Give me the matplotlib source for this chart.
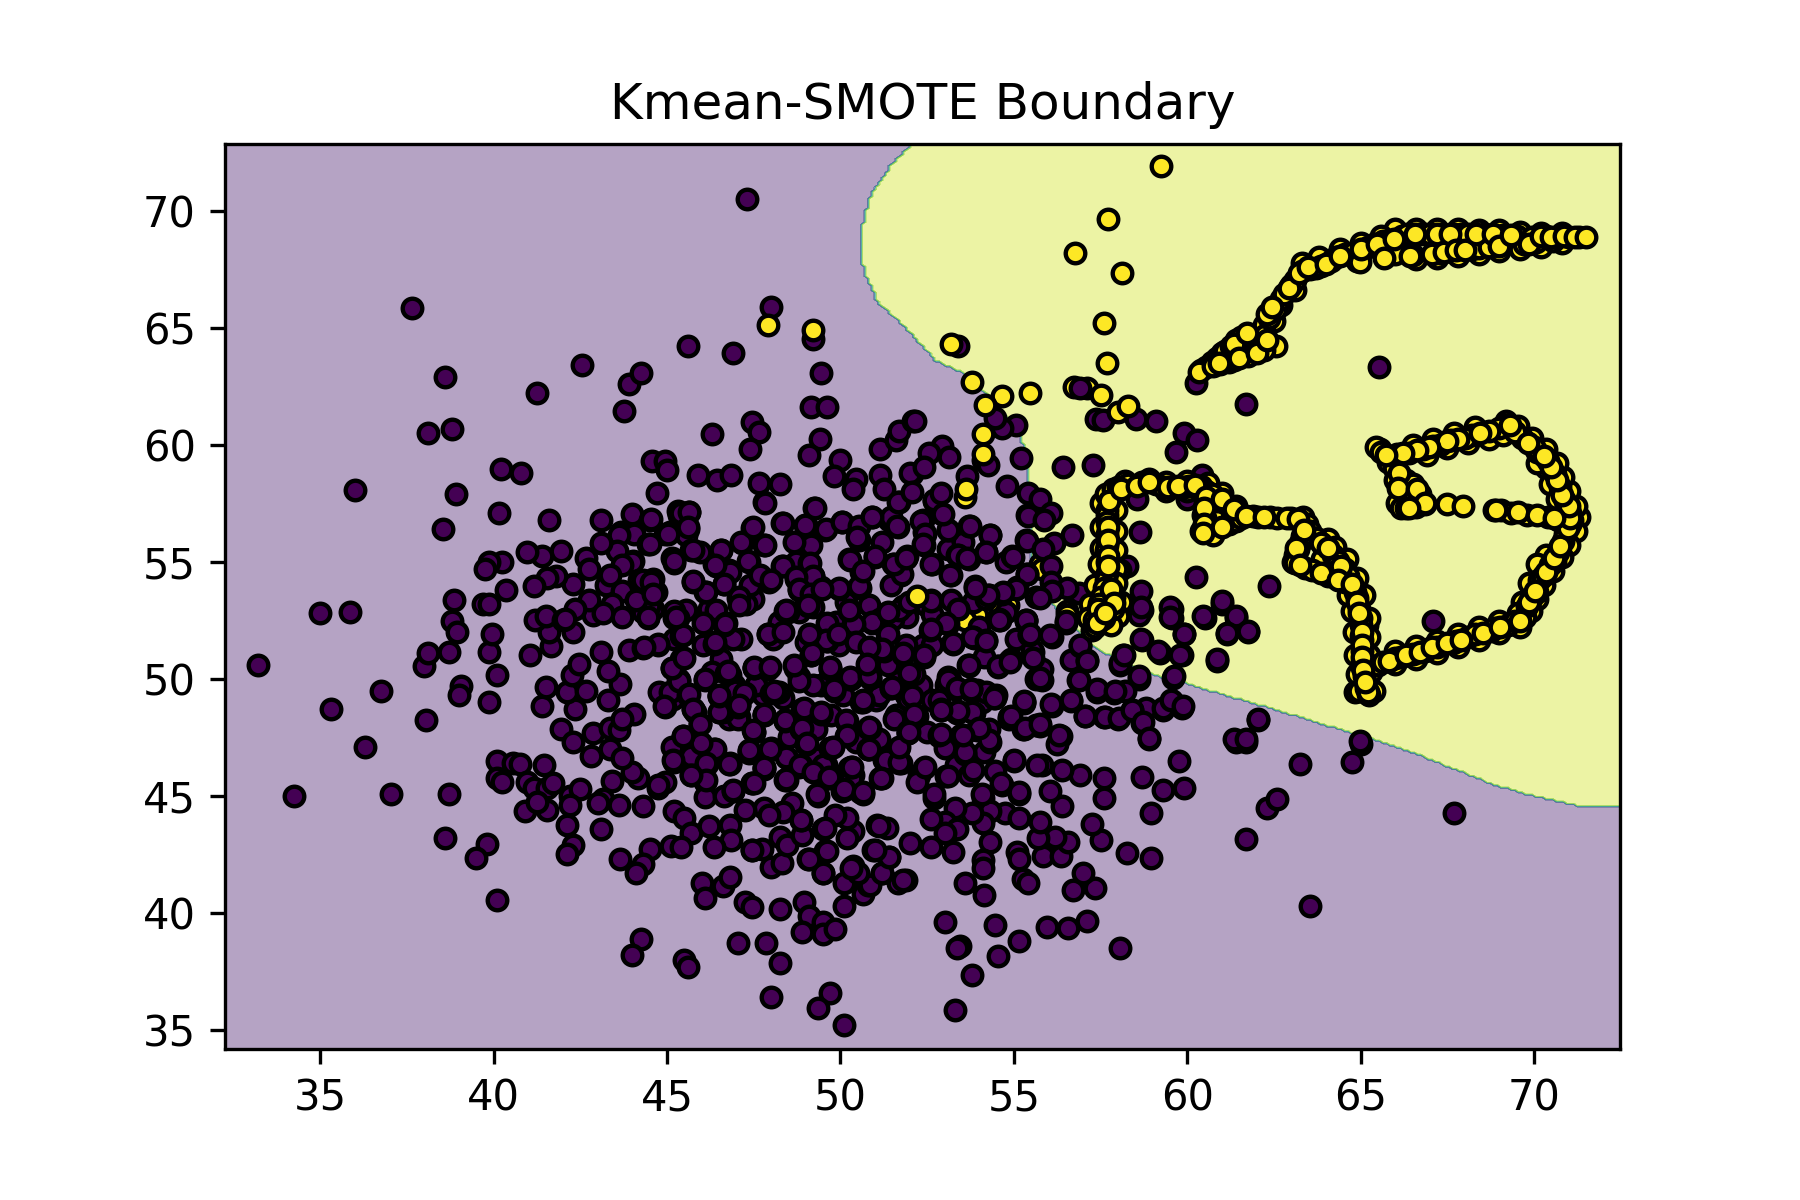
import numpy as np
import matplotlib
matplotlib.use("Agg")
import matplotlib.pyplot as plt
from matplotlib.path import Path

# decision boundary, class 1 side is up/right
boundary_x = [52.15, 51.45, 50.85, 50.56, 50.66, 51.09, 51.69, 52.75, 53.51, 54.5, 55.2, 55.43, 55.5,
              56.16, 57.28, 58.68, 60.07, 62.88, 66.22, 68.81, 70.1, 71.2, 72.6, 73.0, 73.0, 52.15]
boundary_y = [73.0, 71.91, 70.59, 68.97, 67.5, 66.03, 65.29, 63.58, 63.09, 61.81, 60.34, 58.82, 55.25,
              53.09, 51.37, 50.34, 49.75, 48.53, 47.01, 45.5, 44.95, 44.6, 44.5, 44.5, 73.0, 73.0]

x_limits = [32.25, 72.48]
y_limits = [34.2, 72.84]
x_ticks = [35, 40, 45, 50, 55, 60, 65, 70]
y_ticks = [35, 40, 45, 50, 55, 60, 65, 70]

# yellow points that sit behind the purple ones
class1_under = [(56.73, 62.45), (57.1, 62.4), (54.1, 59.33), (53.6, 57.78), (55.75, 54.91), (54.84, 53.14),
                (53.93, 52.72), (56.52, 52.89), (56.52, 52.72), (54.6, 52.9), (53.6, 52.5), (55.8, 54.7)]

# points mostly covered by others in the dense middle
class0_hidden = [
    (50.16, 53.28), (50.83, 53.14), (49.87, 52.43), (49.96, 51.43), (49.44, 49.72), (50.06, 49.3), (51.02, 49.08), (51.6, 48.44),
    (51.12, 49.3), (51.69, 50.15), (52.32, 49.72), (51.88, 49.3), (48.81, 50.08), (49.2, 49.72), (48.33, 49.16), (47.56, 49.72),
    (46.94, 49.72), (46.79, 48.3), (46.51, 48.59), (47.08, 48.37), (46.55, 50.86), (45.35, 49.94), (44.78, 49.44), (45.16, 49.15),
    (48.52, 47.52), (49.29, 47.87), (49.72, 48.44), (50.44, 47.31), (51.12, 47.45), (49.29, 46.6), (49.58, 46.31), (50.35, 45.88),
    (51.26, 46.6), (52.27, 45.88), (53.33, 46.31), (54.14, 46.88), (54.29, 47.87), (54.09, 49), (52.65, 49.08), (53.04, 49.72),
    (53.95, 49.51), (52.37, 51.43), (52.65, 51.43), (51.6, 50.72), (51.36, 50.58), (51.88, 51.43), (51.93, 52.64), (51.5, 52.57),
    (52.46, 53.14), (53.81, 53.28), (54.77, 52.85), (54, 52.21), (48.71, 54.99), (49.44, 53.92), (49.2, 53.07), (48.81, 52.85),
    (48.23, 52.43), (48.04, 51.72), (47.13, 51.72), (46.89, 51.72), (46.03, 51.43), (45.21, 51.72), (44.3, 52.85), (44.58, 53),
    (46.79, 54.63), (46.36, 54.92), (47.47, 53.42), (47.27, 53.21), (46.22, 53), (45.54, 52.92), (50.54, 55.91), (51.4, 56.77),
    (53.09, 55.56), (53.52, 55.84), (54.77, 54.99), (54.19, 53.42), (55.05, 51.72), (44.59, 54.27), (44.68, 53.7), (44.49, 53.13),
    (44.01, 55.05), (43.67, 56.26), (45.07, 56.26), (45.6, 56.41), (45.64, 57.12), (43.24, 53.99), (42.86, 52.71), (49, 53.28),
    (49.1, 54.27), (48.72, 54.27), (47.76, 49.29), (48.24, 49.44), (47.08, 48.87), (47.04, 48.3), (47.56, 49.72), (46.8, 50.15),
    (45.74, 48.73), (46.3, 50.29), (45.31, 50), (45.07, 49.44), (49, 51.57),
]

class0 = [
    (33.2, 50.6), (34.25, 45), (35, 52.8), (35.85, 52.85), (35.3, 48.7), (36.3, 47.1), (36.75, 49.5), (37.05, 45.1),
    (38.05, 48.25), (38, 50.55), (38.1, 51.1), (38.7, 51.15), (38.8, 52.45), (38.95, 52), (39.05, 49.7), (39, 49.3),
    (39.85, 49), (40.1, 50.15), (39.85, 51.15), (39.95, 51.9), (38.7, 45.1), (38.6, 43.2), (39.8, 42.95), (39.5, 42.35),
    (40.1, 40.55), (40.1, 46.5), (40.1, 45.75), (40.25, 45.6), (40.55, 46.4), (40.75, 46.35), (40.95, 45.6), (41.15, 45.35),
    (41.45, 46.3), (41.55, 45.35), (41.7, 45.55), (40.9, 44.35), (41.55, 44.4), (41.25, 44.75), (42.1, 43.75), (42.3, 42.9),
    (42.1, 42.5), (42.2, 45), (42.5, 45.3), (42.2, 44.6), (43.1, 43.6), (43.15, 44.85), (43, 44.7), (43.6, 44.6),
    (44.3, 44.55), (43.65, 42.3), (44.5, 42.75), (44.3, 42.1), (44.1, 41.7), (43.4, 45.65), (44.15, 45.75), (44, 46),
    (44.75, 45.35), (44.95, 45.6), (42.8, 46.7), (43.35, 47), (43.7, 46.6), (41.95, 47.85), (42.3, 47.3), (42.85, 47.7),
    (43.35, 47.9), (43.6, 47.8), (44.05, 48.5), (43.7, 48.3), (43.3, 49.1), (43.65, 49.8), (43.3, 50.35), (43.1, 51.15),
    (42.35, 48.7), (41.4, 48.85), (41.5, 49.65), (42.1, 49.45), (42.65, 49.5), (42.25, 50.15), (42.45, 50.65), (41.05, 51),
    (41.65, 51.4), (41.6, 52), (42.3, 52), (41.2, 52.5), (41.5, 52.7), (42, 52.5), (43.9, 51.25), (44.3, 51.3),
    (44.75, 51.45), (45.4, 51.85), (45.2, 52.6), (45.15, 50.45), (45.4, 50.85), (45.35, 49.9), (44.95, 48.8), (45.6, 49.3),
    (45.8, 48.6), (45.95, 48.05), (45.45, 47.55), (45.15, 47.1), (45.95, 47.2), (45.2, 46.45), (45.7, 46.7), (46.35, 47),
    (46.15, 46.35), (46.8, 46.35), (45.7, 45.9), (46.1, 45.6), (46.1, 44.95), (45.2, 44.35), (45.5, 44.05), (45.7, 43.4),
    (45.1, 42.85), (45.4, 42.8), (46.2, 43.7), (46.8, 43.75), (46.85, 43.1), (46.35, 42.8), (47.45, 42.7), (47.75, 42.75),
    (46, 41.3), (46.6, 41.15), (46.8, 41.55), (46.1, 40.65), (47.25, 40.45), (47.45, 40.25), (48.25, 40.15), (48.95, 40.45),
    (49.1, 39.85), (48.9, 39.2), (49.5, 39.6), (49.5, 39.1), (49.85, 39.3), (50.1, 40.3), (44.25, 38.9), (44, 38.2),
    (45.5, 38), (45.6, 37.7), (47.05, 38.7), (47.85, 38.7), (48.25, 37.85), (48, 36.4), (49.7, 36.6), (49.35, 35.95),
    (50.1, 35.2), (48, 41.95), (48.3, 42.15), (48.25, 43.25), (48.45, 42.9), (49.05, 42.3), (49.55, 42.65), (49.5, 41.7),
    (50.1, 41.3), (50.65, 40.8), (50.8, 41.2), (51.65, 41.3), (51.9, 41.4), (50.35, 42), (50.95, 42.7), (51.4, 42.4),
    (51.2, 41.7), (52, 43), (51.05, 43.75), (51.35, 43.65), (50.35, 43.5), (50.2, 43.2), (49.5, 43.6), (48.9, 43.35),
    (48.85, 43.95), (50.2, 44.05), (49.85, 44.2), (50.05, 45.2), (50.55, 45.15), (49.35, 45), (48.6, 44.7), (48.35, 44.3),
    (47.8, 44.5), (47.95, 44.2), (47.25, 44.4), (46.9, 45.2), (46.65, 45), (47.45, 45.55), (48.45, 45.7), (47.8, 46.2),
    (48.45, 46.6), (48.85, 46.3), (48, 47), (47.35, 46.85), (49, 47.2), (49.7, 47.05), (49.65, 45.75), (49.5, 46.3),
    (50.25, 46.2), (50.3, 45.75), (51.15, 45.75), (51.7, 46.4), (51.25, 46.55), (51.65, 47), (50.8, 47), (50.8, 47.9),
    (50.15, 48.2), (50.15, 47.55), (49.45, 48.5), (48.9, 48.7), (48.85, 47.85), (48.4, 48.2), (47.5, 47.75), (47.8, 48.45),
    (47.05, 48.8), (46.5, 49.25), (46.6, 48.6), (47.2, 49.3), (48, 49.4), (46.1, 49.95), (46.7, 50.25), (47.5, 50.45),
    (47.9, 50.4), (46.95, 49.5), (50.6, 49), (49.8, 49.5), (50.3, 50), (50.85, 50.05), (49.7, 50.4), (49.15, 51),
    (49.6, 51.6), (48.7, 50.45), (48.8, 49.9), (51.45, 49.6), (51.95, 47.7),
    # upper left
    (47.3, 70.5), (48, 65.9), (49.2, 64.5), (37.65, 65.85), (38.6, 62.9), (38.1, 60.5), (38.8, 60.65), (36, 58.05),
    (38.9, 57.9), (40.2, 58.95), (40.8, 58.8), (40.15, 57.1), (38.55, 56.4), (41.6, 56.8), (43.1, 56.8), (41.25, 62.2),
    (42.55, 63.4), (43.9, 62.6), (44.25, 63.05), (43.75, 61.45), (45.6, 64.2), (46.9, 63.9), (49.45, 63.05), (49.15, 61.6),
    (49.6, 61.6), (46.3, 60.45), (47.45, 60.95), (47.65, 60.55), (47.4, 59.8), (49.4, 60.25), (49.1, 59.55), (44.55, 59.3),
    (44.95, 59.3), (45, 58.9), (45.9, 58.7), (46.45, 58.5), (46.85, 58.7), (47.65, 58.35), (48.25, 58.3), (47.8, 57.55),
    (44.7, 57.95), (49.25, 57.3), (45.3, 57.15), (45.6, 57.1), (45.35, 57), (44, 57.05), (44.5, 56.8), (50.05, 56.7),
    (50.9, 56.9), (50.5, 56.5), (50, 59.35), (49.8, 58.65), (50.45, 58.55), (50.35, 58.1), (51.15, 58.7), (51.25, 58.1),
    (51.7, 57.55), (52.05, 58.75), (51.15, 59.8), (51.6, 60.2), (51.7, 60.6), (52.1, 61), (51.65, 56.5), (51.45, 56.9),
    (49, 56.55), (48.3, 56.65), (49.55, 56.35), (47.45, 56.45), (47.15, 55.8), (47.8, 55.7), (46.55, 55.5), (45.55, 56.65),
    (45.55, 56.15), (44.95, 56.2), (44.05, 56.2), (43.6, 56.15), (43.55, 55.45), (43.1, 55.8), (44.45, 55.75), (41.95, 55.45),
    (41.4, 55.25), (40.95, 55.4), (40.25, 55), (39.85, 55), (39.75, 54.7), (42.65, 55.15), (42.75, 54.7), (44, 55),
    (43.7, 54.85), (45.15, 55.15), (45.2, 54.95), (45.7, 55.5), (45.95, 55.4), (47.35, 55), (46.4, 54.8), (48.3, 54.8),
    (49.1, 54.95), (50.25, 55.1), (51, 55.2), (51.5, 54.9), (51.9, 55.15), (51.75, 54.45), (50.6, 54.55), (51.45, 54),
    (49.95, 53.85), (50.55, 53.9), (48.8, 53.8), (49.2, 54.4), (47.65, 54.4), (47.95, 54.15), (47.4, 54), (46.65, 54.05),
    (46.8, 54.55), (45.75, 54.15), (46.1, 53.7), (44.2, 54.2), (44.5, 53.95), (43.35, 54.45), (43.7, 53.75), (44.1, 53.35),
    (43.4, 53.2), (42.75, 53.35), (42.3, 54.05), (41.8, 54.4), (41.55, 54.3), (41.15, 53.95), (40.35, 53.8), (38.85, 53.35),
    (39.7, 53.2), (39.85, 53.2), (47.05, 53.45), (48.4, 52.9), (49.05, 53.1), (50.25, 52.9), (45.2, 52.9), (46.4, 52.95),
    (46.7, 52.4), (45.3, 52.6), (44.45, 52.6), (43.7, 52.65), (43.15, 52.8), (42.35, 53), (42.05, 52.55), (49.6, 52.4),
    (50.35, 52.35), (51.15, 52.55), (51.8, 53.1),
    # lower right
    (53.3, 35.85), (53.8, 37.35), (54.55, 38.15), (53.45, 38.6), (53.35, 38.5), (55.15, 38.8), (58.05, 38.5), (55.95, 39.4),
    (56.55, 39.35), (57.1, 39.65), (54.45, 39.5), (53, 39.6), (63.55, 40.3), (54.15, 40.75), (53.6, 41.3), (55.25, 41.45),
    (55.4, 41.3), (56.7, 41), (57.35, 41.05), (57, 41.7), (51.8, 41.4), (50.85, 41.2), (49.5, 41.7), (51.2, 41.7),
    (51.4, 42.4), (51, 42.7), (50.5, 41.7), (50.3, 41.9), (49.6, 42.65), (49.1, 42.3), (52.6, 42.8), (53.25, 42.6),
    (54.3, 43.05), (54.1, 42.25), (54.1, 41.9), (55.1, 42.6), (55.15, 42.3), (55.85, 42.45), (56.35, 42.45), (56.55, 43.05),
    (56.2, 43.25), (55.7, 43.2), (57.5, 43.1), (57.25, 43.8), (58.25, 42.55), (58.95, 42.35), (58.95, 44.25), (61.7, 43.15),
    (62.3, 44.5), (62.6, 44.85), (67.7, 44.25), (63.25, 46.35), (64.75, 46.45), (65, 47.2), (61.4, 47.3), (61.7, 47.3),
    (62.05, 48.25), (59.75, 46.5), (59.9, 45.35), (59.3, 45.25), (58.7, 45.8), (57.6, 45.75), (57.6, 44.9), (56.4, 44.55),
    (56.9, 45.9), (56.4, 46.1), (55.8, 46.3), (56.05, 45.2), (55.15, 45.1), (54.65, 45.45), (54.45, 46.05), (55, 46.5),
    (54.1, 44.9), (54.75, 44.25), (55.15, 44.05), (54.3, 44.35), (54.1, 43.85), (53.8, 44.25), (55.75, 43.9), (53.3, 44.5),
    (53, 43.9), (52.6, 44), (53.35, 43.6), (53, 43.4), (52.7, 44.9), (53.05, 45.85), (53.7, 45.9), (52.4, 46.2),
    (52.2, 45.6), (51.75, 46.4), (51.2, 45.75), (50.65, 45.1), (50.1, 45.25), (48.85, 43.95), (49.55, 43.65), (51.1, 43.7),
    (47.45, 42.7), (60.85, 50.75), (61.15, 51.9), (61.75, 52), (61.4, 52.6), (61, 53.2), (60.5, 52.6), (59.9, 51.9),
    (59.85, 51), (59.2, 51.1), (58.7, 51.65), (59.55, 53), (59.55, 52.6), (58.7, 52.95), (58.15, 51), (58.05, 50.6),
    (58.6, 50), (59.6, 50.05), (59.55, 49.05), (59.85, 48.75), (59.3, 48.65), (58.8, 48.75), (58.4, 48.65), (58.7, 48.1),
    (58.9, 47.45), (58, 48.3), (57.6, 48.35), (57.05, 48.4), (56.65, 49.05), (56.1, 48.85), (55.3, 48.95), (54.85, 48.3),
    (55.25, 47.85), (55.75, 48), (56.35, 47.55), (56.25, 47.2), (57.4, 49.45), (57.9, 49.4), (58.2, 49.5), (56.85, 49.95),
    (55.8, 49.95), (55.55, 51.15), (56.65, 50.8), (57.1, 50.8), (56.9, 51.4), (56.1, 51.8), (55.45, 51.9), (56.5, 52.4),
    (55.35, 52.45), (54.6, 52.5), (53.85, 51.75), (53.25, 51.5), (53.7, 50.55), (54.55, 50.5), (54.85, 50.75), (52.4, 50.95),
    (51.8, 51), (51.25, 51.2), (51.35, 51.9), (50.9, 52.4), (50.35, 52.3), (49.6, 51.6), (49.15, 51), (49.7, 50.4),
    (50.25, 50), (50.85, 50.05), (51.45, 49.6), (49.8, 49.55), (50.65, 49), (51.95, 49.15), (53.15, 49.95), (53.3, 49.6),
    (53.75, 49.5), (54.2, 49.45), (54.45, 49.2), (52.85, 49.1), (52.9, 48.65), (53.35, 48.55), (53.85, 48.55), (52.2, 48.4),
    (51.55, 48.3), (50.85, 47.9), (50.2, 48.2), (49.45, 48.55), (48.95, 48.7), (47.8, 48.45), (48.4, 48.25), (48.85, 47.85),
    (47.5, 47.75), (46.5, 48.6), (46.5, 49.25), (47.25, 49.4), (48.1, 49.4), (46.75, 50.25), (47.5, 50.45), (47.9, 51.9),
    (48.5, 52.85), (46.35, 51.5), (46.65, 52.3), (51.95, 47.7), (52.85, 47.55), (53.5, 47.55), (53.95, 47.8), (54.3, 47.3),
    (53.6, 46.8), (53, 47.05), (52.5, 47.75), (51.65, 47), (50.8, 47), (49.7, 47.05), (49, 47.2), (48, 47.05),
    (47.35, 46.9), (48.8, 46.25), (47.8, 46.15), (46.8, 46.4), (46.15, 46.4), (49.7, 45.75), (50.3, 46.25), (48.4, 45.7),
    (47.45, 45.55), (46.9, 45.2), (51.3, 46.55),
    # centre
    (44.54, 56.84), (45.4, 57.09), (45.64, 57.12), (45.59, 56.48), (45.02, 56.2), (44.51, 55.77), (45.19, 55.02), (45.74, 55.49),
    (46.55, 55.49), (47.13, 55.84), (47.47, 56.48), (47.83, 55.73), (47.83, 57.52), (48.33, 56.67), (48.97, 56.58), (49.26, 57.29),
    (49.58, 56.38), (50.04, 56.69), (50.54, 56.52), (50.9, 56.91), (50.49, 56.05), (51.64, 56.52), (51.21, 55.84), (51, 55.23),
    (50.28, 55.09), (49.15, 55.7), (48.67, 55.84), (48.33, 54.8), (49.11, 54.94), (49.2, 54.38), (48.71, 54.35), (48.79, 53.82),
    (49.15, 53.64), (49.05, 53.17), (49.96, 53.88), (50.54, 53.96), (50.66, 54.59), (51.76, 54.48), (51.55, 54.92), (51.93, 55.24),
    (52.41, 55.7), (52.41, 56.27), (52.37, 56.77), (52.7, 57.58), (51.67, 57.55), (52.94, 57.05), (53.09, 56.34), (53.71, 56.52),
    (54.32, 56.13), (54.19, 55.41), (53.37, 55.27), (52.63, 54.92), (53.18, 54.45), (53.71, 55.13), (54.96, 55.24), (55.34, 55.91),
    (55.39, 56.98), (55.37, 54.46), (53.88, 53.96), (54.29, 53.59), (54.67, 53.64), (55.08, 53.92), (55.63, 53.49), (53.4, 53),
    (53.18, 53.35), (52.61, 53.35), (52.65, 52.78), (54.57, 52.54), (53.81, 51.79), (54.19, 51.64), (53.09, 52.36), (52.58, 52.1),
    (53.23, 51.54), (52.41, 51.03), (51.79, 51.12), (51.36, 51.93), (50.9, 52.43), (51.69, 52.92), (51.98, 53.28), (51.36, 52.85),
    (50.4, 52.36), (50.25, 52.92), (49.58, 51.64), (49.92, 51.93), (50.44, 51.57), (51.21, 51.26), (50.83, 51.36), (49.17, 51.1),
    (49.7, 50.51), (50.28, 50.08), (50.83, 50.12), (50.76, 50.65), (52.11, 50.22), (51.48, 49.65), (52.06, 49.27), (50.64, 49.11),
    (49.8, 49.58), (48.94, 48.76), (49.45, 48.59), (48.07, 49.47), (47.23, 49.41), (47.51, 50.51), (46.75, 50.32), (47.98, 50.51),
    (48.67, 50.58), (46.51, 49.3), (45.64, 49.37), (46.09, 50), (45.13, 50.48), (45.5, 50.89), (44.92, 48.83), (45.74, 48.7),
    (45.96, 48.09), (47.08, 48.87), (47.8, 48.49), (47.49, 47.8), (48.4, 48.23), (48.88, 47.92), (50.16, 48.23), (50.18, 47.59),
    (50.83, 47.95), (52.17, 48.42), (51.96, 47.76), (52.85, 47.59), (52.89, 48.7), (53.33, 48.59), (53.79, 48.59), (53.76, 49.58),
    (53.31, 49.58), (53.09, 50.08), (54.48, 49.3), (55.3, 49), (54.86, 48.37), (54, 47.87), (53.47, 47.59), (54.29, 47.38),
    (53.59, 46.88), (53.81, 46.1), (53.09, 45.86), (52.43, 46.24), (51.69, 46.45), (51.69, 47.09), (50.81, 47.02), (49.77, 47.09),
    (49.03, 47.24), (48.43, 46.67), (48.84, 46.31), (47.98, 47.02), (47.37, 46.95), (47.8, 46.24), (46.79, 46.38), (46.39, 47.02),
    (46.12, 46.41), (45.98, 47.24), (45.45, 47.56), (45.16, 46.55), (46.12, 45.7), (45.69, 45.88), (44.73, 45.46), (46.91, 45.24),
    (47.51, 45.57), (48.43, 45.74), (49.2, 46.03), (49.66, 45.81), (50.32, 46.24), (50.11, 45.29), (51.16, 45.77), (50.64, 45.17),
    (49.32, 45.07), (52.7, 45.1), (54.09, 45.1), (54.62, 45.53), (55, 46.52), (55.15, 45.17), (55.68, 46.31), (55.3, 47.87),
    (55.63, 48.02), (55.63, 50.01), (55.53, 51.22), (55.44, 51.86), (55.34, 52.5), (54.53, 50.54), (53.69, 50.6), (54.14, 50.93),
    (54.91, 50.86), (45.45, 51.89), (45.26, 52.64), (44.73, 51.5), (44.34, 51.36), (44.44, 52.64), (46.03, 52.4), (46.39, 51.57),
    (46.67, 52.36), (47.08, 53.49), (48.43, 52.95), (47.92, 51.93), (48.33, 52), (47.08, 53.14), (46.65, 54.06), (46.12, 53.71),
    (45.74, 54.18), (46.39, 54.85), (47.32, 55.03), (47.68, 54.42), (48, 54.2), (44.3, 54.23), (44.54, 54.13), (44.58, 53.64),
    (49.48, 53.85), (49.1, 51.93),
    # right side, between the yellow tracks too
    (53.4, 64.2), (60.25, 62.64), (65.53, 63.31), (61.7, 61.75), (56.9, 62.42), (57.36, 61.1), (57.57, 61.07), (58.52, 61.1),
    (59.1, 61.02), (59.9, 60.48), (60.28, 60.19), (59.69, 59.67), (56.42, 59.05), (57.29, 59.13), (55.22, 59.42), (55.05, 60.82),
    (54.66, 60.73), (54.45, 61.16), (54.26, 59.13), (52.16, 61.02), (52.92, 59.94), (53.14, 59.47), (52.54, 59.64), (52, 58.79),
    (52.4, 59.05), (53.66, 58.66), (54.8, 58.25), (55.4, 57.95), (55.75, 57.7), (55.4, 56.97), (56.07, 57.07), (55.86, 56.77),
    (54.31, 56.13), (53.73, 56.52), (53.1, 56.35), (52.7, 57.65), (52.89, 57.95), (52.05, 57.98), (52.96, 57.02), (52.33, 56.72),
    (52.43, 56.18), (52.37, 55.76), (53.4, 55.29), (53.66, 55.17), (54.21, 55.42), (54.98, 55.2), (55.37, 55.89), (56.69, 56.15),
    (56.17, 55.81), (55.85, 55.54), (56.07, 54.83), (56.06, 54.15), (55.37, 54.46), (55.05, 53.82), (54.68, 53.7), (54.26, 53.6),
    (53.89, 53.9), (56.87, 53.65), (56.52, 53.9), (56.1, 53.73), (55.75, 53.45), (53.17, 54.44), (52.61, 54.91), (51.9, 55.17),
    (53.38, 52.97), (52.61, 53.31), (53.03, 52.38), (52.61, 52.13), (53.8, 51.79), (54.21, 51.63), (53.24, 51.54), (54.56, 52.5),
    (55.36, 52.5), (55.47, 51.91), (56.03, 51.88), (56.49, 52.47), (56.9, 51.46), (57.12, 50.78), (55.8, 50.44), (55.54, 50.87),
    (54.54, 50.53), (53.7, 50.61), (54.88, 50.7), (52.4, 51.03), (51.98, 50.27), (58.05, 50.66), (58.19, 51.03), (58.61, 50.11),
    (59.63, 50.11), (57.4, 49.55), (57.92, 49.48), (55.75, 50.02), (56.87, 49.94), (53.1, 49.94), (53.35, 49.6), (53.77, 49.55),
    (54.42, 49.18), (55.3, 49.06), (56.06, 48.93), (56.66, 49.09), (57.05, 48.42), (57.64, 48.39), (58.03, 48.33), (58.4, 48.67),
    (58.71, 48.17), (58.89, 47.49), (59.31, 48.76), (59.52, 49.09), (59.87, 48.84), (62.04, 48.3), (61.36, 47.41), (61.69, 47.41),
    (64.97, 47.36), (54.91, 48.42), (53.8, 48.59), (53.38, 48.64), (52.89, 48.67), (52.12, 48.5), (55.33, 47.91), (55.75, 48.08),
    (54, 47.91), (53.52, 47.58), (52.89, 47.66), (51.98, 47.75), (56.31, 47.58), (58.61, 52.72), (58.68, 53.73), (58.68, 53.06),
    (59.49, 53.06), (59.49, 52.64), (60.46, 52.69), (60.99, 53.31), (61.41, 52.69), (61.15, 51.96), (61.76, 52.05), (59.91, 51.93),
    (58.68, 51.71), (59.17, 51.17), (59.8, 51.03), (60.85, 50.83), (58.26, 54.83), (58.05, 54.66), (58.64, 56.26), (60.26, 54.36),
    (62.37, 53.95), (67.1, 52.47), (65.18, 52.3), (60.43, 58.71), (58.54, 57.7), (60, 57.7), (60.78, 57.1), (64.83, 49.43),
]

# outer edge of the yellow bands, these only show as thick black outline
class1_edge = [
    (57.5, 57.5), (57.95, 57.2), (57.5, 56.5), (57.95, 56.3), (57.5, 55.6), (57.95, 55.5), (57.45, 54.9), (57.95, 54.7),
    (57.35, 54), (57.95, 54.1), (57.2, 53.2), (58.1, 53.3), (57.15, 52.6), (58, 52.7), (57.25, 52.1), (57.8, 52.3),
    (58.2, 58.45), (58.9, 58.55), (59.4, 58.4), (59.4, 58), (60, 58.45), (60, 58), (60.6, 58.35), (61, 57.95),
    (61.4, 57.4), (60.75, 57.05), (71.3, 56.9), (71.2, 57.4), (71, 58), (70.85, 58.6), (70.65, 59.2), (70.35, 59.8),
    (69.95, 60.3), (69.55, 60.8), (69.2, 61), (70.35, 59), (70.1, 59.2), (70.45, 58.3), (70.65, 57.7), (70.85, 57),
    (71.2, 56.3), (71, 55.7), (70.8, 55.2), (70.55, 54.6), (70.3, 54), (70.1, 53.4), (69.9, 52.9), (70.35, 55.3),
    (70.1, 54.9), (69.85, 54.1), (69.65, 53.3), (69.55, 52.8), (66, 50.65), (66.6, 50.85), (67.2, 51.1), (67.8, 51.35),
    (68.4, 51.65), (69, 51.95), (69.6, 52.2), (66, 51.2), (66.6, 51.4), (67.2, 51.6), (67.8, 51.9), (68.4, 52.2),
    (69, 52.45), (68.3, 60.75), (67.7, 60.5), (67.1, 60.25), (66.5, 60), (66.9, 59.55), (67.5, 59.85), (68.1, 60.05),
    (68.7, 60.25), (69.1, 60.4), (66, 69.2), (66.6, 69.2), (67.2, 69.2), (67.8, 69.2), (68.4, 69.15), (69, 69.15),
    (69.6, 69.1), (70.2, 69.05), (70.8, 69.05), (66.6, 67.95), (67.2, 67.98), (67.8, 68.05), (68.4, 68.15), (69, 68.25),
    (69.6, 68.35), (70.2, 68.45), (70.8, 68.6), (65, 68.6), (65.6, 68.9), (64.4, 68.35), (63.8, 68), (63.3, 67.75),
    (63.1, 66.6), (62.7, 65.95), (62.5, 65.3), (62.2, 65.1), (62.55, 64.2), (64.75, 52.9), (65.25, 52.6), (64.8, 52),
    (65.25, 51.8), (64.85, 51), (65.25, 51), (64.9, 50.2), (65.3, 50.3), (64.95, 49.5), (65.4, 49.5), (64.65, 53.6),
    (65.1, 53.6), (63.9, 55.1), (64.05, 55.95), (64.6, 55.1), (64.9, 54.3), (64.25, 55.65),
]

# the many yellow points packed along the tracks, mostly hidden by the front ones
class1_back = [
    (60.4, 63.2), (60.55, 63.3), (60.7, 63.55), (60.85, 63.7), (61, 63.9), (61.1, 64), (61.25, 64.2), (61.4, 64.45),
    (61.55, 64.6), (61.7, 64.4), (61.9, 64.55), (62.05, 64.2), (62.2, 64.05), (62.25, 64.7), (61.2, 63.55), (61.75, 63.8),
    (61.35, 63.6), (60.95, 63.45), (62.35, 65.4), (62.55, 65.8), (62.7, 66.2), (62.8, 66.45), (63, 66.8), (63.1, 67.05),
    (63.3, 67.4), (63.55, 67.5), (63.7, 67.55), (63.85, 67.65), (64.15, 67.85), (64.3, 68), (64.55, 68.15), (64.75, 68.2),
    (64.9, 67.85), (65.2, 68.45), (65.4, 68.55), (65.65, 68.7), (65.8, 68.7), (66, 68.15), (66.2, 68.9), (66.35, 69),
    (66.5, 68.1), (66.7, 69), (66.85, 69), (67, 69), (67.3, 68.2), (67.5, 68.25), (67.35, 69), (67.7, 69),
    (67.9, 69), (68.1, 69), (68.2, 68.35), (68.4, 68.4), (68.55, 69), (68.7, 68.45), (69.1, 68.95), (69.5, 68.9),
    (69.7, 68.55), (69.95, 68.85), (70.05, 68.65), (70.35, 68.9), (70.55, 68.7), (70.65, 68.85), (71, 68.85), (71.3, 68.85),
    (57.65, 57.9), (57.7, 57.2), (57.7, 57), (57.7, 56.7), (57.7, 56.2), (57.7, 55.7), (57.65, 55.5), (57.7, 55),
    (57.7, 54.5), (57.65, 54.2), (57.6, 53.9), (57.5, 53.5), (57.45, 53.2), (57.9, 53.5), (57.85, 53), (57.6, 52.6),
    (57.5, 52.5), (57.35, 52.2), (57.45, 52.7), (57.3, 52.5), (57.85, 58.1), (58, 58.2), (58.3, 58.3), (58.7, 58.4),
    (59.1, 58.3), (59.3, 58.2), (59.6, 58.2), (59.9, 58.2), (60.05, 58.25), (60.4, 58.25), (60.55, 58), (60.7, 57.9),
    (60.85, 57.6), (61.1, 57.5), (61.25, 57.3), (61.5, 57.05), (61.9, 56.95), (62.05, 56.9), (62.4, 56.9), (62.6, 56.85),
    (63, 56.85), (63.35, 56.9), (63.45, 56.6), (63.55, 56.3), (63.7, 56), (63.85, 55.8), (64.2, 55.3), (64.35, 55.05),
    (64.55, 54.7), (64.65, 54.4), (60.5, 57.5), (60.45, 57), (60.5, 56.85), (60.45, 56.4), (60.4, 56.3), (60.7, 56.25),
    (61.2, 56.6), (61.4, 56.75), (61.55, 56.85), (60.75, 56.15), (63.1, 55.3), (63.05, 55), (63.1, 54.95), (63.4, 54.75),
    (63.6, 54.65), (64.05, 54.4), (64.3, 54.3), (64.55, 54.15), (63.25, 55.8), (63.3, 56.1), (63.2, 55.55), (64.85, 53.7),
    (64.9, 53.45), (64.95, 53), (65, 52.6), (65, 52.3), (65, 51.85), (65.05, 51.65), (65.05, 51.2), (65.05, 50.7),
    (65.05, 50.5), (65.1, 50.1), (65.15, 49.6), (65.2, 49.35), (65.25, 49.3), (65.5, 50.6), (65.65, 50.7), (66, 50.9),
    (66.15, 50.95), (66.5, 51.05), (66.85, 51.2), (67.2, 51.35), (67.65, 51.55), (67.75, 51.6), (68.1, 51.8), (68.3, 51.9),
    (68.75, 52.05), (68.85, 52.15), (69.25, 52.3), (69.45, 52.45), (69.75, 52.65), (69.8, 53.1), (69.95, 53.5), (70.1, 53.7),
    (70.15, 54.2), (70.25, 54.4), (70.45, 54.85), (70.6, 55.05), (70.7, 55.4), (70.85, 55.9), (70.9, 56.2), (71.05, 56.6),
    (71.1, 56.8), (71.05, 57.1), (70.9, 57.6), (70.75, 58.2), (70.6, 58.75), (70.4, 59.3), (70.1, 59.7), (70, 59.9),
    (69.65, 60.3), (69.45, 60.55), (69.15, 60.85), (69, 60.7), (68.7, 60.6), (68.2, 60.4), (68, 60.3), (67.6, 60.2),
    (67.3, 60), (67.1, 59.95), (66.8, 59.8), (66.4, 59.65), (66.05, 59.6), (65.55, 59.8), (65.45, 59.9), (65.6, 59.7),
    (65.8, 59.25), (65.95, 59), (66, 58.5), (66.1, 58.2), (66.3, 58.5), (66.5, 58.3), (66.7, 57.9), (66.05, 57.5),
    (66.15, 57.3), (66.3, 57.3), (66.6, 57.35), (66.85, 57.45), (68.85, 57.2), (69.05, 57.2), (69.35, 57.1), (69.8, 57),
    (70.4, 56.9), (70.7, 56.8), (70.85, 56.7),
]

# yellow points on top of everything
class1_front = [
    (47.9, 65.1), (49.2, 64.9), (59.23, 71.92), (57.71, 69.62), (56.76, 68.19), (58.12, 67.35), (57.59, 65.2), (57.68, 63.5),
    (53.19, 64.31), (53.79, 62.67), (54.67, 62.08), (55.47, 62.22), (54.17, 61.71), (54.1, 60.45), (54.1, 59.6), (53.63, 58.09),
    (57.5, 62.13), (58, 61.41), (58.29, 61.63), (52.2, 53.53),
    (60.33, 63.1), (60.75, 63.35), (60.92, 63.5), (61.34, 64.28), (61.73, 64.78), (61.5, 63.69), (62, 63.9), (62.31, 64.45),
    (62.29, 65.59), (62.45, 65.88), (62.94, 66.69), (63.22, 67.31), (63.47, 67.6), (64, 67.73), (64.41, 68.07), (64.97, 67.82),
    (65, 68.36), (65.46, 68.58), (65.67, 67.99), (65.95, 68.8), (66.43, 68.07), (66.57, 69), (67.06, 68.16), (67.2, 69),
    (67.41, 68.24), (67.59, 69), (67.76, 68.33), (68, 68.33), (68.32, 69), (68.81, 69), (68.98, 68.5), (69.33, 68.95),
    (69.86, 68.58), (70.2, 68.92), (70.48, 68.88), (70.86, 68.92), (71.18, 68.88), (71.5, 68.88),
    (57.73, 57.61), (57.71, 56.47), (57.71, 55.93), (57.71, 55.25), (57.71, 54.8), (57.8, 53.82), (57.89, 53.23), (57.43, 52.97),
    (57.4, 52.38), (57.64, 52.81), (58.1, 58.12), (58.54, 58.24), (58.89, 58.41), (59.45, 58.2), (59.73, 58.24), (60.22, 58.29),
    (60.53, 57.78), (60.47, 57.28), (60.47, 56.63), (60.46, 56.21), (60.99, 56.47), (60.99, 57.7), (61.36, 57.24), (61.69, 56.94),
    (62.2, 56.9), (62.87, 56.85), (63.18, 56.82), (63.36, 56.35), (63.15, 55.59), (63.26, 54.86), (63.85, 54.54), (64.06, 55.59),
    (64.44, 54.83), (64.34, 54.24), (64.76, 54.04), (64.9, 53.28), (64.94, 52.81), (65.04, 52.01), (65.04, 51.46), (65.04, 50.95),
    (65.22, 49.43), (65.08, 50.36), (65.14, 49.85),
    (65.83, 50.75), (66.32, 51), (66.71, 51.15), (67.06, 51.34), (67.48, 51.51), (67.9, 51.66), (68.53, 51.96), (69.02, 52.22),
    (69.6, 52.47), (69.86, 53.26), (70.02, 53.73), (70.35, 54.58), (70.58, 55.17), (70.76, 55.67), (70.97, 56.43), (71.04, 56.85),
    (71, 57.36), (70.81, 57.87), (70.67, 58.49), (70.49, 59.05), (70.28, 59.5), (69.83, 60.06), (69.3, 60.82), (68.43, 60.51),
    (67.8, 60.26), (67.48, 60.14), (66.97, 59.89), (66.64, 59.77), (66.23, 59.64), (65.74, 59.55), (66.11, 58.79), (66.09, 58.15),
    (66.62, 58.09), (66.85, 57.53), (66.39, 57.31), (67.48, 57.48), (67.94, 57.39), (68.91, 57.19), (69.55, 57.11), (70.09, 56.99),
    (70.58, 56.85),
]

# same step as the original meshgrid, the edge shows small stairs
xx, yy = np.meshgrid(np.arange(x_limits[0], x_limits[1] + 0.1, 0.1), np.arange(y_limits[0], y_limits[1] + 0.1, 0.1))
region = Path(np.column_stack([boundary_x, boundary_y]))
Z = region.contains_points(np.column_stack([xx.ravel(), yy.ravel()])).reshape(xx.shape).astype(float)

fig, ax = plt.subplots(figsize=(6, 4), dpi=300)
fig.subplots_adjust(left=0.125, right=0.9, bottom=0.126, top=0.88)

ax.contourf(xx, yy, Z, alpha=0.4)

scatter_style = dict(s=22, edgecolors="k", linewidths=1.05)
for points, colour in [(class1_under, "#fde725"), (class0_hidden, "#440154"), (class0, "#440154"),
                       (class1_edge, "#fde725"), (class1_back, "#fde725"), (class1_front, "#fde725")]:
    pts = np.array(points)
    ax.scatter(pts[:, 0], pts[:, 1], c=colour, **scatter_style)

ax.set_xlim(x_limits)
ax.set_ylim(y_limits)
ax.set_xticks(x_ticks)
ax.set_yticks(y_ticks)
ax.set_title("Kmean-SMOTE Boundary")

fig.savefig("out.png", dpi=300)
